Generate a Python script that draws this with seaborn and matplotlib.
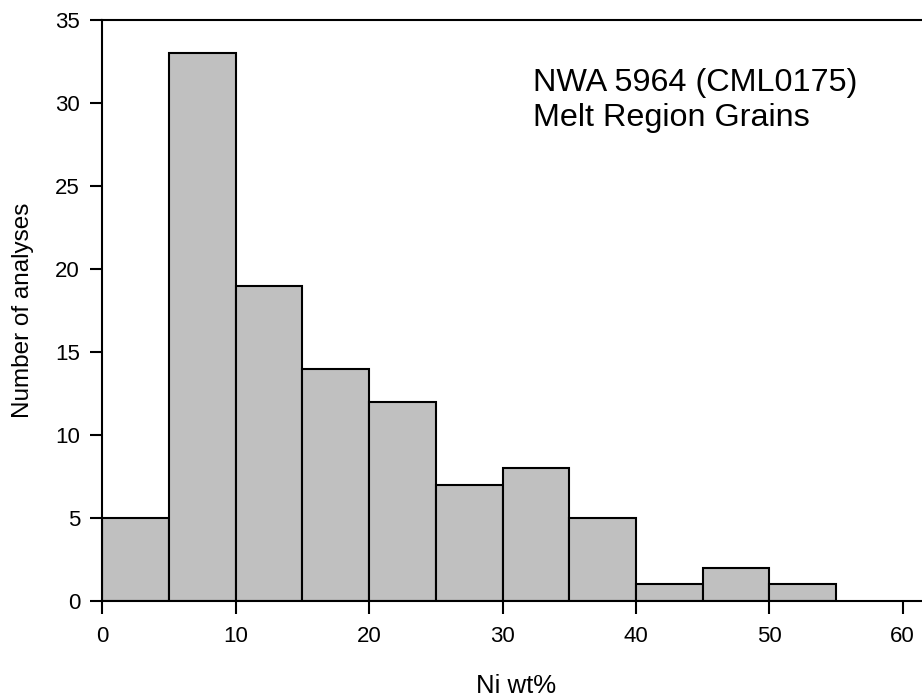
import matplotlib
matplotlib.use('Agg')
import matplotlib.pyplot as plt
import seaborn as sns

# histogram of Ni content, 5 wt% bins
bin_edges = [0, 5, 10, 15, 20, 25, 30, 35, 40, 45, 50, 55]
bin_mids = [2.5, 7.5, 12.5, 17.5, 22.5, 27.5, 32.5, 37.5, 42.5, 47.5, 52.5]
counts = [5, 33, 19, 14, 12, 7, 8, 5, 1, 2, 1]
x_ticks = [0, 10, 20, 30, 40, 50, 60]
y_ticks = [0, 5, 10, 15, 20, 25, 30, 35]

sns.set_theme(style='white')
plt.rcParams['font.family'] = ['Liberation Sans', 'DejaVu Sans']
plt.rcParams['text.color'] = 'black'
plt.rcParams['axes.labelcolor'] = 'black'

fig = plt.figure(figsize=(9.22, 6.98), dpi=100)
ax = fig.add_axes([0.111, 0.139, 0.889, 0.832])

sns.histplot(x=bin_mids, weights=counts, bins=bin_edges, ax=ax,
             color='#c0c0c0', alpha=1.0, edgecolor='black', linewidth=1.5)

ax.set_xlim(0, 61.45)
ax.set_ylim(0, 35)
ax.set_xticks(x_ticks)
ax.set_yticks(y_ticks)
ax.tick_params(axis='both', direction='out', length=9, width=1.5,
               labelsize=16, colors='black', bottom=True, left=True)
ax.tick_params(axis='x', pad=9)
ax.tick_params(axis='y', pad=7)

for side in ['left', 'bottom', 'top']:
    ax.spines[side].set_visible(True)
    ax.spines[side].set_color('black')
    ax.spines[side].set_linewidth(1.5)
ax.spines['right'].set_visible(False)

ax.set_xlabel('Ni wt%', fontsize=18.5)
ax.xaxis.set_label_coords(0.505, -0.125, transform=ax.transAxes)
ax.xaxis.label.set_verticalalignment('top')
ax.set_ylabel('Number of analyses', fontsize=17.5, labelpad=15)

ax.text(32.3, 32.1, 'NWA 5964 (CML0175)\nMelt Region Grains',
        fontsize=23.3, va='top', ha='left', linespacing=1.18)

fig.savefig('out.png', dpi=100)
